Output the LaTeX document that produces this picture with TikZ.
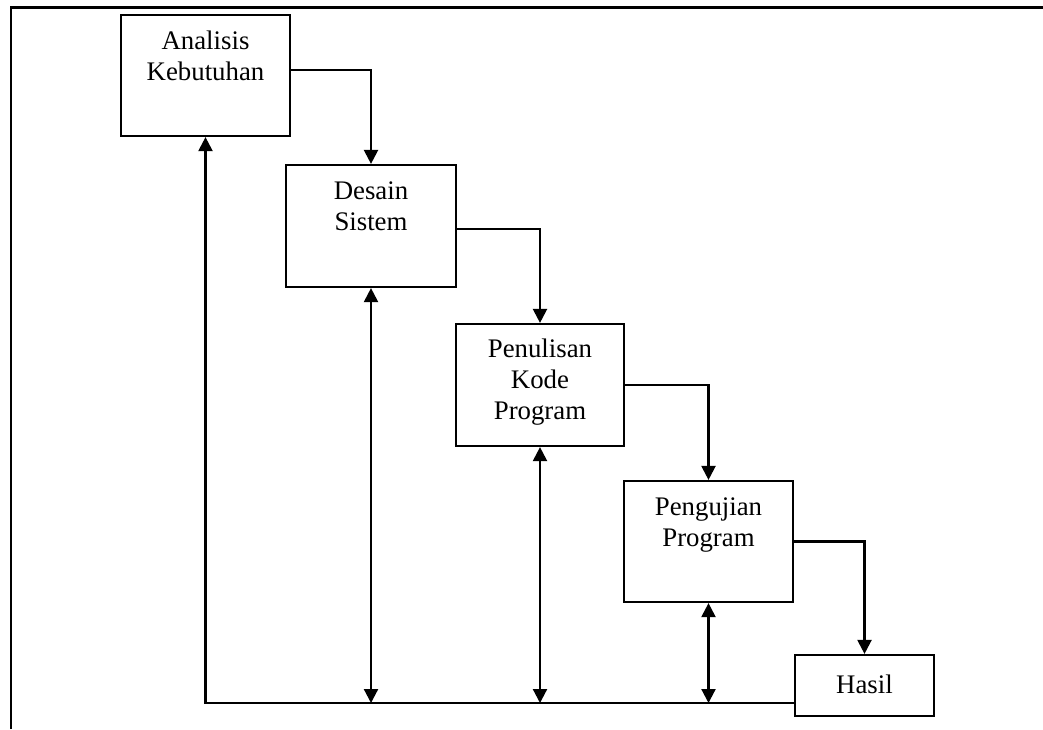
\documentclass[tikz,border=0pt]{standalone}
\usepackage{fontspec}
\setmainfont{Liberation Serif}
\usetikzlibrary{arrows.meta}
\begin{document}
\begin{tikzpicture}[x=1pt,y=-1pt,
  box/.style={draw=black,line width=2.2pt,inner sep=0pt,minimum width=#1,minimum height=121pt},
  lbl/.style={inner sep=0pt,anchor=north,align=center,font=\fontsize{26.8}{31}\selectfont,yshift=-13.3pt},
  conn/.style={line width=2.2pt,-{Triangle[length=14pt,width=14pt]}},
  dconn/.style={line width=2.2pt,{Triangle[length=14pt,width=14pt]}-{Triangle[length=14pt,width=14pt]}},
  frame/.style={line width=2.8pt}]
\useasboundingbox (0,0) rectangle (1043,729);
% frame
\coordinate (fbl) at (11,729);
\coordinate (ftl) at (11,7.5);
\coordinate (ftr) at (1043,7.5);
\draw[frame] (fbl) -- (ftl) -- (ftr);
% boxes
\node[box=169pt] (A) at (205.5,75.5) {};
\node[box=170pt,minimum height=122pt] (D) at (371,226) {};
\node[box=168pt,minimum height=122pt] (P) at (540,385) {};
\node[box=169pt] (G) at (708.5,541.5) {};
\node[box=139pt,minimum height=61pt,font=\fontsize{26.8}{31}\selectfont] (H) at (864.5,685.5) {\raisebox{2pt}{Hasil}};
% labels
\node[lbl] (At) at (A.north) {\strut Analisis\\Kebutuhan};
\node[lbl] (Dt) at (D.north) {\strut Desain\\Sistem};
\node[lbl,yshift=1pt] (Pt) at (P.north) {\strut Penulisan\\Kode\\Program};
\node[lbl] (Gt) at (G.north) {\strut Pengujian\\Program};
% forward connectors
\draw[conn] ([yshift=5.5pt]A.east) -| (D.north);
\draw[conn] ([yshift=-3pt]D.east) -| (P.north);
\draw[conn] (P.east) -| (G.north);
\draw[conn] (G.east) -| (H.north);
% feedback
\coordinate (fb) at ([yshift=-17.5pt]H.west);
\draw[conn] (fb) -| (A.south);
\draw[dconn] (D.south) -- (D.south |- fb);
\draw[dconn] (P.south) -- (P.south |- fb);
\draw[dconn] (G.south) -- (G.south |- fb);
\end{tikzpicture}
\end{document}
